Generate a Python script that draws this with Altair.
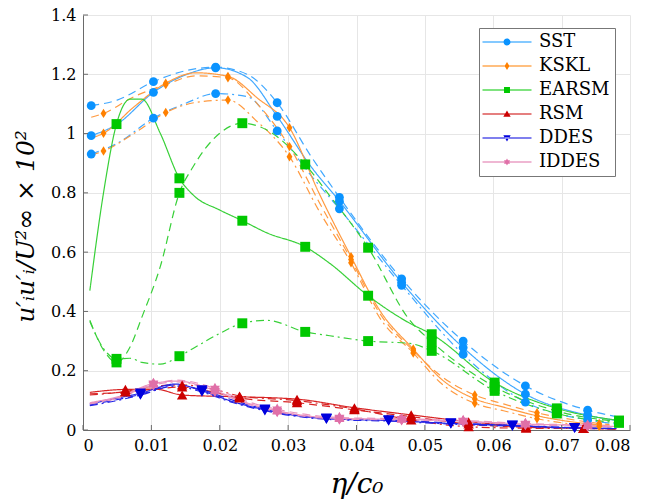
import altair as alt
import pandas as pd

MODELS = ["SST", "KSKL", "EARSM", "RSM", "DDES", "IDDES"]
VARIANTS = ["solid", "dashed", "dashdot"]

MARKER_COLORS = ["#0a93ff", "#ff8000", "#00c800", "#cc0000", "#0000dd", "#e070a8"]
LINE_COLORS = ["#40a8ff", "#ff9a40", "#38d038", "#d82424", "#2424e6", "#ea94be"]

# ---- SST ----
SST_x = [0.0012, 0.005, 0.0103, 0.015, 0.0194, 0.024, 0.0284, 0.0333, 0.0375, 0.0466, 0.0556, 0.0647, 0.0738, 0.078]
SST_solid = [0.993, 1.032, 1.139, 1.198, 1.222, 1.19, 1.058, 0.89, 0.772, 0.498, 0.278, 0.121, 0.050, 0.032]
SST_dashed = [1.094, 1.113, 1.175, 1.212, 1.224, 1.20, 1.104, 0.925, 0.785, 0.51, 0.300, 0.149, 0.067, 0.045]
SST_dashdot = [0.931, 0.967, 1.052, 1.102, 1.135, 1.125, 1.009, 0.86, 0.746, 0.488, 0.255, 0.094, 0.034, 0.02]
SST_mk = [0.0012, 0.0103, 0.0194, 0.0284, 0.0375, 0.0466, 0.0556, 0.0647, 0.0738]

# ---- KSKL ----
KSKL_x = [0.0012, 0.003, 0.0075, 0.0121, 0.0165, 0.0212, 0.0255, 0.0302, 0.0345, 0.0392, 0.0435, 0.0483, 0.0525, 0.0573, 0.0615, 0.0664, 0.0755, 0.077]
KSKL_solid = [0.985, 1.001, 1.091, 1.170, 1.205, 1.193, 1.12, 1.02, 0.80, 0.585, 0.40, 0.273, 0.17, 0.105, 0.077, 0.048, 0.017, 0.014]
KSKL_dashed = [1.055, 1.068, 1.125, 1.165, 1.195, 1.188, 1.10, 0.956, 0.77, 0.575, 0.39, 0.268, 0.18, 0.118, 0.088, 0.058, 0.022, 0.018]
KSKL_dashdot = [0.928, 0.941, 1.001, 1.071, 1.105, 1.113, 1.04, 0.922, 0.74, 0.564, 0.375, 0.26, 0.155, 0.09, 0.065, 0.038, 0.012, 0.01]
KSKL_mk = [0.003, 0.0121, 0.0212, 0.0302, 0.0392, 0.0483, 0.0573, 0.0664, 0.0755]

# ---- EARSM ----
EARSM_x = [0.001, 0.003, 0.0049, 0.0069, 0.0086, 0.0113, 0.0141, 0.0161, 0.020, 0.0233, 0.0269, 0.0325, 0.0361, 0.0417, 0.0478, 0.051, 0.0602, 0.0693, 0.0784]
EARSM_solid = [0.47, 0.80, 1.032, 1.116, 1.116, 1.001, 0.849, 0.793, 0.742, 0.706, 0.665, 0.618, 0.562, 0.453, 0.36, 0.323, 0.160, 0.073, 0.032]
EARSM_dashed = [0.37, 0.27, 0.228, 0.281, 0.38, 0.551, 0.80, 0.888, 1.001, 1.035, 1.012, 0.896, 0.79, 0.615, 0.37, 0.298, 0.146, 0.064, 0.028]
EARSM_dashdot = [0.366, 0.275, 0.24, 0.242, 0.228, 0.222, 0.249, 0.275, 0.326, 0.360, 0.37, 0.331, 0.318, 0.300, 0.292, 0.267, 0.132, 0.056, 0.024]
EARSM_mk = [0.0049, 0.0141, 0.0233, 0.0325, 0.0417, 0.051, 0.0602, 0.0693, 0.0784]

# ---- RSM ----
RSM_x = [0.001, 0.0062, 0.0105, 0.0145, 0.019, 0.0229, 0.0313, 0.0397, 0.048, 0.0564, 0.0648, 0.0732, 0.078]
RSM_solid = [0.127, 0.137, 0.138, 0.118, 0.114, 0.112, 0.104, 0.075, 0.051, 0.028, 0.012, 0.006, 0.004]
RSM_dashed = [0.122, 0.128, 0.138, 0.145, 0.128, 0.108, 0.092, 0.068, 0.045, 0.02, 0.009, 0.006, 0.003]
RSM_dashdot = [0.118, 0.13, 0.148, 0.152, 0.138, 0.115, 0.099, 0.071, 0.034, 0.011, 0.006, 0.005, 0.003]
RSM_mk = [0.0062, 0.0145, 0.0229, 0.0313, 0.0397, 0.048, 0.0564, 0.0648, 0.0732]

# ---- DDES ----
DDES_x = [0.001, 0.0045, 0.0084, 0.0135, 0.0174, 0.022, 0.0266, 0.0356, 0.0447, 0.0538, 0.0628, 0.0719, 0.078]
DDES_solid = [0.088, 0.105, 0.124, 0.155, 0.132, 0.095, 0.068, 0.038, 0.032, 0.022, 0.015, 0.007, 0.005]
DDES_dashed = [0.085, 0.10, 0.12, 0.152, 0.135, 0.10, 0.07, 0.04, 0.034, 0.024, 0.016, 0.008, 0.005]
DDES_dashdot = [0.082, 0.097, 0.118, 0.148, 0.128, 0.092, 0.065, 0.036, 0.03, 0.02, 0.013, 0.006, 0.004]
DDES_mk = [0.0084, 0.0174, 0.0266, 0.0356, 0.0447, 0.0538, 0.0628, 0.0719]

# ---- IDDES ----
IDDES_x = [0.001, 0.0055, 0.0103, 0.0138, 0.0193, 0.0235, 0.0284, 0.0375, 0.0466, 0.0556, 0.0647, 0.0738, 0.078]
IDDES_solid = [0.092, 0.115, 0.157, 0.165, 0.133, 0.095, 0.065, 0.039, 0.036, 0.030, 0.020, 0.015, 0.012]
IDDES_dashed = [0.09, 0.112, 0.155, 0.168, 0.14, 0.10, 0.07, 0.042, 0.038, 0.032, 0.022, 0.016, 0.013]
IDDES_dashdot = [0.088, 0.11, 0.152, 0.162, 0.13, 0.092, 0.062, 0.037, 0.034, 0.028, 0.018, 0.013, 0.010]
IDDES_mk = [0.0103, 0.0193, 0.0284, 0.0375, 0.0466, 0.0556, 0.0647, 0.0738]

X_TICKS = [0, 0.01, 0.02, 0.03, 0.04, 0.05, 0.06, 0.07, 0.08]
Y_TICKS = [0, 0.2, 0.4, 0.6, 0.8, 1.0, 1.2, 1.4]

SERIES = {
    "SST": (SST_x, [SST_solid, SST_dashed, SST_dashdot], SST_mk),
    "KSKL": (KSKL_x, [KSKL_solid, KSKL_dashed, KSKL_dashdot], KSKL_mk),
    "EARSM": (EARSM_x, [EARSM_solid, EARSM_dashed, EARSM_dashdot], EARSM_mk),
    "RSM": (RSM_x, [RSM_solid, RSM_dashed, RSM_dashdot], RSM_mk),
    "DDES": (DDES_x, [DDES_solid, DDES_dashed, DDES_dashdot], DDES_mk),
    "IDDES": (IDDES_x, [IDDES_solid, IDDES_dashed, IDDES_dashdot], IDDES_mk),
}

rows = []
for m in MODELS:
    xs, ys_list, mk = SERIES[m]
    for v, ys in zip(VARIANTS, ys_list):
        for x, y in zip(xs, ys):
            rows.append({"model": m, "variant": v, "x": x, "y": y,
                         "mk": any(abs(x - q) < 1e-9 for q in mk)})
df = pd.DataFrame(rows)

DIAMOND = "M0,-1L0.62,0L0,1L-0.62,0Z"
HEXAGRAM = ("M0,-1L0.2887,-0.5L0.866,-0.5L0.577,0L0.866,0.5L0.2887,0.5L0,1"
            "L-0.2887,0.5L-0.866,0.5L-0.577,0L-0.866,-0.5L-0.2887,-0.5Z")
SHAPES = ["circle", DIAMOND, "square", "triangle-up", "triangle-down", HEXAGRAM]

BAR = "M-7,-0.17H7V0.17H-7Z"
LEG_SHAPES = [
    BAR + "M0,-1A1,1 0 1,1 0,1A1,1 0 1,1 0,-1Z",
    BAR + "M0,-1.15L0.7,0L0,1.15L-0.7,0Z",
    BAR + "M-0.85,-0.85H0.85V0.85H-0.85Z",
    BAR + "M0,-1L1.05,0.8H-1.05Z",
    BAR + "M0,1L1.05,-0.8H-1.05Z",
    BAR + HEXAGRAM,
]

FONT = "DejaVu Serif"
AXIS_GREY = "#6a6a6a"

X_SCALE = alt.Scale(domain=[0, 0.08], nice=False, zero=False)
Y_SCALE = alt.Scale(domain=[0, 1.4], nice=False)
X_AXIS = alt.Axis(values=X_TICKS, title="η/c₀",
                  labelExpr="format(datum.value, '~g')",
                  titleFontStyle="italic", titleFontSize=28,
                  titleBaseline="alphabetic", titleY=62)
Y_AXIS = alt.Axis(values=Y_TICKS, title="u′ᵢu′ᵢ/U²∞ × 10²",
                  labelExpr="format(datum.value, '~g')",
                  titleFontStyle="italic", titleFontSize=25,
                  titleBaseline="alphabetic", titleX=-50, titleY=211,
                  titleAlign="center")

x_enc = alt.X("x:Q", scale=X_SCALE, axis=X_AXIS)
y_enc = alt.Y("y:Q", scale=Y_SCALE, axis=Y_AXIS)

lines = alt.Chart(df).mark_line(interpolate="monotone", strokeWidth=1.2, clip=True).encode(
    x=x_enc, y=y_enc,
    color=alt.Color("model:N", scale=alt.Scale(domain=MODELS, range=LINE_COLORS), legend=None),
    strokeDash=alt.StrokeDash("variant:N", scale=alt.Scale(domain=VARIANTS, range=[[1, 0], [8, 5], [8, 4, 2, 4]]), legend=None),
)

points = alt.Chart(df).transform_filter("datum.mk").mark_point(filled=True, opacity=1, strokeWidth=0).encode(
    x=x_enc, y=y_enc,
    color=alt.Color("model:N", scale=alt.Scale(domain=MODELS, range=MARKER_COLORS), legend=None),
    shape=alt.Shape("model:N", scale=alt.Scale(domain=MODELS, range=SHAPES), legend=None),
    size=alt.Size("model:O", scale=alt.Scale(domain=MODELS, range=[78, 130, 68, 85, 85, 135]), legend=None),
)

xticks = alt.Chart(pd.DataFrame({"x": X_TICKS})).mark_rule(color=AXIS_GREY, strokeWidth=1).encode(
    x=x_enc, y=alt.value(415), y2=alt.value(410))
yticks = alt.Chart(pd.DataFrame({"y": Y_TICKS})).mark_rule(color=AXIS_GREY, strokeWidth=1).encode(
    y=y_enc, x=alt.value(0), x2=alt.value(5))

leg = dict(title=None, orient="none", legendX=396, legendY=13, labelFont=FONT, labelFontSize=18,
           labelColor="black", symbolSize=49, symbolOffset=14, labelOffset=23, padding=5,
           rowPadding=6, strokeColor="#777777", fillColor="white", symbolStrokeWidth=0, labelLimit=200)

dummy = alt.Chart(pd.DataFrame({"model": MODELS})).mark_point(filled=True, size=49, strokeWidth=0, clip=True, opacity=1).encode(
    x=alt.value(-300), y=alt.value(-300),
    color=alt.Color("model:N", scale=alt.Scale(domain=MODELS, range=MARKER_COLORS), legend=alt.Legend(**leg)),
    shape=alt.Shape("model:N", scale=alt.Scale(domain=MODELS, range=LEG_SHAPES), legend=alt.Legend(**leg)),
)

chart = alt.layer(lines, points, xticks, yticks, dummy).resolve_scale(
    color="independent", shape="independent"
).properties(
    width=547, height=415,
    autosize=alt.AutoSizeParams(type="none"),
    padding={"left": 83, "top": 15, "right": 19, "bottom": 74},
).configure_view(stroke=None).configure_axis(
    labelFont=FONT, labelFontSize=16, labelColor="black", labelPadding=7,
    titleFont=FONT, titleColor="black", titleFontWeight="normal",
    domainColor=AXIS_GREY, domainWidth=1, ticks=False,
    gridColor="#e6e6e6", gridWidth=1,
)

chart.save("out.html", embed_options={"renderer": "svg", "actions": False})
